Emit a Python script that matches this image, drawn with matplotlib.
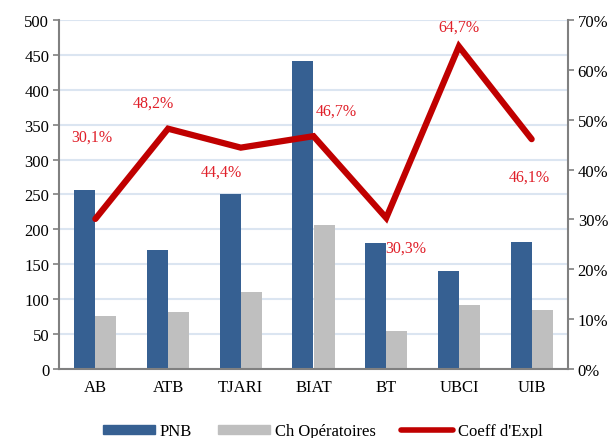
import matplotlib
matplotlib.use("Agg")
import matplotlib.pyplot as plt
import numpy as np
from matplotlib.lines import Line2D
from matplotlib.patches import Patch

categories = ["AB", "ATB", "TJARI", "BIAT", "BT", "UBCI", "UIB"]
pnb = [256, 171, 251, 441, 180, 141, 182]
ch_op = [76, 82, 111, 206, 54, 91, 84]
coeff = [30.1, 48.2, 44.4, 46.7, 30.3, 64.7, 46.1]
coeff_labels = ["30,1%", "48,2%", "44,4%", "46,7%", "30,3%", "64,7%", "46,1%"]

# label offsets in pixels (dx, dy) relative to the point
label_offsets = [(-4, 82), (-15, 26), (-19, -24), (23, 26), (20, -30), (0, 20), (-2, -37)]

plt.rcParams['font.family'] = ['Liberation Serif', 'DejaVu Serif']

fig = plt.figure(figsize=(6.08, 4.39), dpi=100)
ax = fig.add_axes([59/608, 1 - 370/439, (568-59)/608, (370-21)/439])

x = np.arange(len(categories))
w = 0.29
blue = "#366092"
grey = "#bfbfbf"
red = "#c00000"

ax.bar(x - w/2, pnb, width=w, color=blue, zorder=2)
ax.bar(x + w/2, ch_op, width=w, color=grey, zorder=2)
ax.set_xlim(-0.5, len(categories) - 0.5)
ax.set_ylim(0, 500)
ax.set_yticks(np.arange(0, 501, 50))
ax.yaxis.grid(True, color="#dbe5f1", linewidth=1.5, zorder=0)
ax.set_axisbelow(True)
ax.set_xticks(x)
ax.set_xticklabels(categories, fontsize=12)
ax.tick_params(axis='x', length=0, pad=7)
ax.tick_params(axis='y', labelsize=12, color="#808080", length=4, width=1.2, pad=3)
for s in ["top", "right"]:
    ax.spines[s].set_visible(False)
for s in ["left", "bottom"]:
    ax.spines[s].set_color("#808080")
    ax.spines[s].set_linewidth(1.5)

ax2 = ax.twinx()
ax2.plot(x, coeff, color=red, linewidth=4.5, solid_capstyle="round", solid_joinstyle="miter", zorder=3)
ax2.set_ylim(0, 70)
ax2.set_yticks(np.arange(0, 71, 10))
ax2.set_yticklabels([f"{v}%" for v in range(0, 71, 10)], fontsize=12)
ax2.tick_params(axis='y', color="#808080", length=4, width=1.2, pad=3)
for s in ["top", "left", "bottom"]:
    ax2.spines[s].set_visible(False)
ax2.spines["right"].set_color("#808080")
ax2.spines["right"].set_linewidth(1.5)

for xi, yi, lab, (dx, dy) in zip(x, coeff, coeff_labels, label_offsets):
    ax2.annotate(lab, (xi, yi), xytext=(dx * 0.72, dy * 0.72), textcoords="offset points",
                 ha="center", va="center", color="#e0202a", fontsize=11.5)

handles = [Patch(color=blue), Patch(color=grey),
           Line2D([0], [0], color=red, linewidth=4, solid_capstyle="round")]
fig.legend(handles, ["PNB", "Ch Opératoires", "Coeff d'Expl"], loc="center",
           bbox_to_anchor=(323/608, 1 - 432/439), ncol=3, frameon=False, fontsize=12,
           handlelength=3.1, handleheight=0.45, columnspacing=1.55, handletextpad=0.3)

fig.savefig("out.png", dpi=100)
